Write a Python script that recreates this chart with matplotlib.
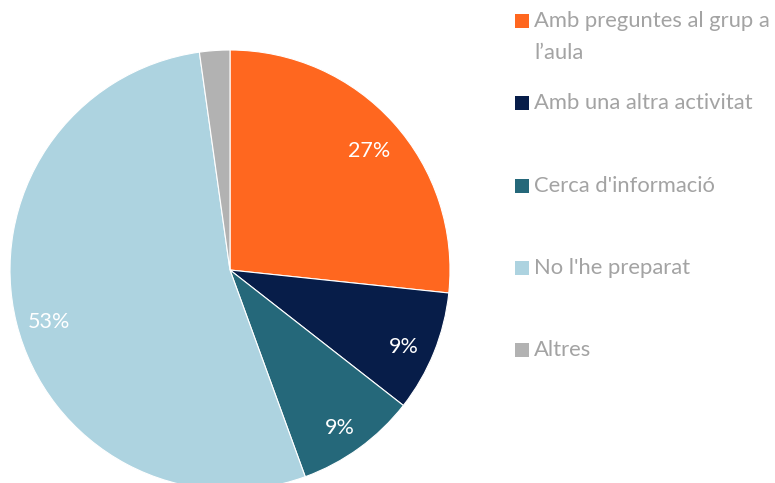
import matplotlib.pyplot as plt
from matplotlib.patches import Rectangle

# answers (counts)
categories = ["Amb preguntes al grup a\nl\u2019aula", "Amb una altra activitat",
              "Cerca d'informació", "No l'he preparat", "Altres"]
counts = [12, 4, 4, 24, 1]
colors = ["#FF671F", "#071D49", "#25687A", "#ADD3E0", "#B2B2B2"]

plt.rcParams['font.family'] = ['Lato', 'DejaVu Sans']

W, H = 775, 483
fig = plt.figure(figsize=(W / 100, H / 100), dpi=100)

# pie centre at (230, 270) px from top-left, radius 220 px
cx, cy, r = 230, 270, 220
ax = fig.add_axes([(cx - r) / W, (H - cy - r) / H, 2 * r / W, 2 * r / H])

wedges, texts, autotexts = ax.pie(
    counts, colors=colors, startangle=90, counterclock=False,
    autopct=lambda p: f"{p:.0f}%" if p > 3 else "", pctdistance=0.85,
    wedgeprops=dict(edgecolor="white", linewidth=0.8),
    textprops=dict(color="white", fontsize=15.5))
# Excel drops the labels a touch lower than matplotlib does
for t in autotexts:
    x, y = t.get_position()
    t.set_position((x, y - 0.03))
ax.set_xlim(-1, 1)
ax.set_ylim(-1, 1)
ax.set_aspect('equal')
ax.axis('off')

# legend on the right, first line of each entry on an even grid
x0, y0, step = 515, 21, 82.3
for i, (lab, col) in enumerate(zip(categories, colors)):
    y = y0 + i * step
    fig.patches.append(Rectangle((x0 / W, (H - y - 7) / H), 14 / W, 14 / H,
                                 transform=fig.transFigure, facecolor=col,
                                 edgecolor='none'))
    fig.text((x0 + 19) / W, (H - y + 10) / H, lab, color="#A3A3A3",
             fontsize=15.8, va='top', ha='left', linespacing=1.75)

fig.savefig("out.png", dpi=100)
